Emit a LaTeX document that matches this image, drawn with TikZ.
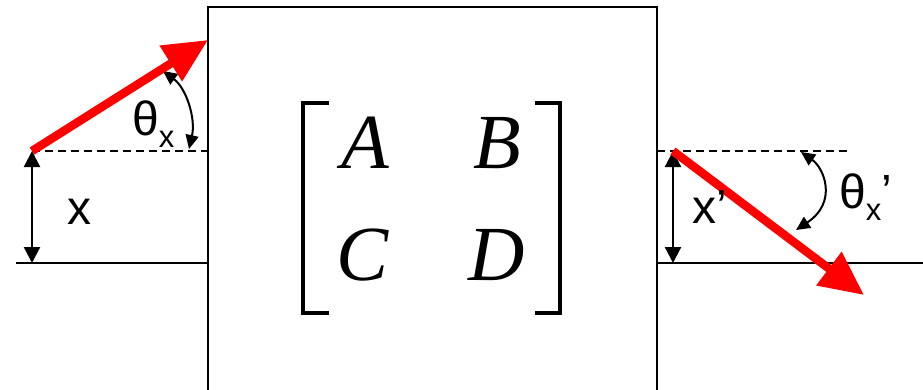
\documentclass[tikz,border=0pt]{standalone}
\usepackage{fontspec}
\setmainfont{Liberation Sans}
\newfontfamily\mathserif{Liberation Serif}
\usetikzlibrary{arrows.meta}
\begin{document}
\begin{tikzpicture}[x=1pt,y=-1pt,
  thin line/.style={line width=2.3pt,black},
  dash line/.style={line width=1.6pt,black,dash pattern=on 8pt off 5pt},
  dim arrow/.style={line width=2.2pt,{Triangle[length=16pt,width=16pt]}-{Triangle[length=16pt,width=16pt]}},
  ang arrow/.style={line width=2pt,{Triangle[length=14pt,width=13pt]}-{Triangle[length=14pt,width=13pt]}},
  ray/.style={line width=8.5pt,red,-{Triangle[length=44pt,width=40pt]}},
  lab/.style={inner sep=0pt,anchor=base west,font=\fontsize{48}{48}\selectfont},
  ent/.style={inner sep=0pt,anchor=base,font=\mathserif\itshape\fontsize{78}{78}\selectfont},
  brk/.style={line width=3.5pt,black}]
\useasboundingbox (0,0) rectangle (923,389);
% coordinates
\coordinate (lbase0) at (16,263);
\coordinate (lbase1) at (208,263);
\coordinate (rbase0) at (657,263);
\coordinate (rbase1) at (930,263);
\coordinate (lstart) at (32,151);
\coordinate (ldash) at (208,151);
\coordinate (lfoot) at (32,263);
\coordinate (ltip) at (208,40);
\coordinate (rstart) at (673,151);
\coordinate (rdash) at (847,151);
\coordinate (rfoot) at (673,263);
\coordinate (rtip) at (864,295);
\coordinate (la0) at (163,71);
\coordinate (la1) at (189,149);
\coordinate (ra0) at (801,152);
\coordinate (ra1) at (796,230);
% box
\draw[thin line] (208,395) -- (208,7) -- (657,7) -- (657,395);
% base lines
\draw[thin line] (lbase0) -- (lbase1);
\draw[thin line] (rbase0) -- (rbase1);
% dashed lines
\draw[dash line] (lstart) -- (ldash);
\draw[dash line] (rbase0 |- rstart) -- (rdash);
% dimension arrows
\draw[dim arrow] (lfoot) -- (lstart);
\draw[dim arrow] (rfoot) -- (rstart);
% angle arcs
\draw[ang arrow] (la0) .. controls (186,88) and (196,118) .. (la1);
\draw[ang arrow] (ra0) .. controls (824,168) and (838,202) .. (ra1);
% rays
\draw[ray] (lstart) -- (ltip);
\draw[ray] (rstart) -- (rtip);
% labels
\node[lab] (xlab) at (67,224) {x};
\node[lab] (xplab) at (692,223) {x’};
\node[lab] (thl) at (132,135) {θ\raisebox{-12pt}{\fontsize{31}{31}\selectfont x}};
\node[lab] (thr) at (839,208) {θ\raisebox{-12pt}{\fontsize{31}{31}\selectfont x}’};
% matrix
\node[ent] (A) at (365,168) {A};
\node[ent] (B) at (497,168) {B};
\node[ent] (C) at (363,280) {C};
\node[ent] (D) at (497,280) {D};
\draw[brk] (329,103) -- (303,103) -- (303,313) -- (329,313);
\draw[brk] (535,103) -- (560,103) -- (560,313) -- (535,313);
\end{tikzpicture}
\end{document}
